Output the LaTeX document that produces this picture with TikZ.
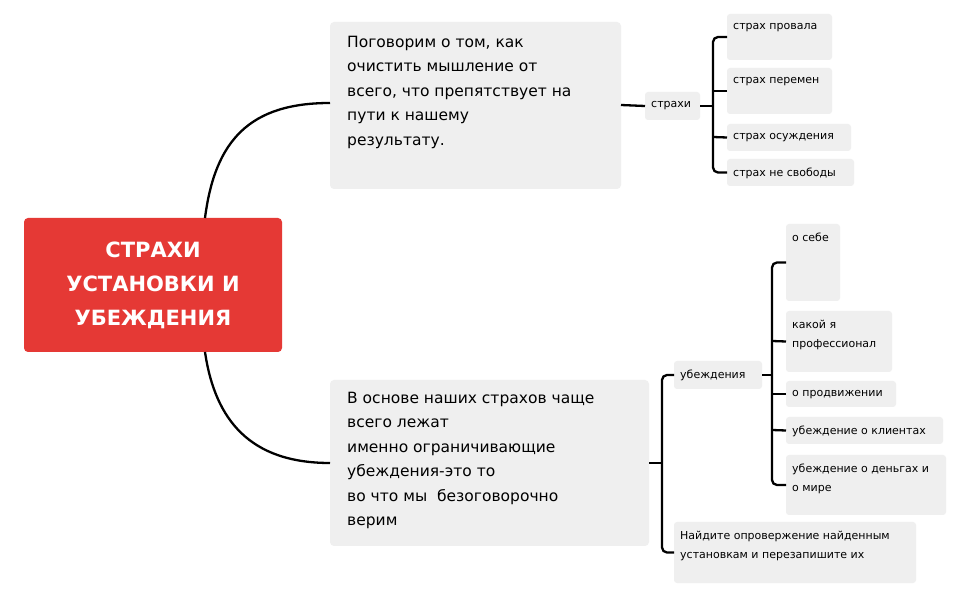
\documentclass[tikz,border=0pt]{standalone}
\usepackage{fontspec}
\setmainfont{DejaVu Sans}
\begin{document}
\begin{tikzpicture}[x=1pt,y=-1pt,
  lbl/.style={anchor=north west,align=left,inner sep=0pt,text=black},
  con/.style={line width=2.3pt,black,rounded corners=5pt}]
\definecolor{boxgray}{HTML}{EFEFEF}
\definecolor{rootred}{HTML}{E53935}
\useasboundingbox[fill=white] (0,0) rectangle (970,601);
% root
\fill[rootred,rounded corners=4pt] (24,218) rectangle (282,352);
\node[text=white,font=\bfseries\fontsize{21}{34}\selectfont,align=center] (root) at (153,285) {СТРАХИ\\УСТАНОВКИ И\\УБЕЖДЕНИЯ};
\coordinate (rt) at (205,218); \coordinate (rb) at (205,352);
% big boxes
\fill[boxgray,rounded corners=4pt] (330,22) rectangle (621,189);
\node[lbl,font=\fontsize{15.5}{24.5}\selectfont] (t) at (347,36) {Поговорим о том, как\\очистить мышление от\\всего, что препятствует на\\пути к нашему\\результату.};
\coordinate (tl) at (330,103); \coordinate (tr) at (621,105);
\fill[boxgray,rounded corners=4pt] (330,380) rectangle (649,546);
\node[lbl,font=\fontsize{15.5}{24.5}\selectfont] (b) at (347,392) {В основе наших страхов чаще\\всего лежат\\именно ограничивающие\\убеждения-это то\\во что мы\ \ безоговорочно\\верим};
\coordinate (bl) at (330,463); \coordinate (br) at (649,463);
\draw[con] (rt) .. controls (215,140) and (250,103) .. (tl);
\draw[con] (rb) .. controls (215,420) and (250,463) .. (bl);
% small boxes
\newcommand{\smallbx}[6]{% name, x1,y1,x2,y2,text
  \fill[boxgray,rounded corners=3pt] (#2,#3) rectangle (#4,#5);
  \node[lbl,font=\fontsize{11}{19}\selectfont] (#1) at (#2+6,#3+9) {#6};
  \coordinate (#1w) at (#2,{(#3+#5)/2}); \coordinate (#1e) at (#4,{(#3+#5)/2});}
\smallbx{s}{645}{92}{700}{120}{страхи}
\smallbx{a1}{727}{14}{832}{60}{страх провала}
\smallbx{a2}{727}{68}{832}{114}{страх перемен}
\smallbx{a3}{727}{124}{851}{151}{страх осуждения}
\smallbx{a4}{727}{159}{854}{186}{страх не свободы}
\smallbx{u}{674}{361}{762}{389}{убеждения}
\smallbx{n}{674}{522}{916}{583}{Найдите опровержение найденным\\установкам и перезапишите их}
\smallbx{c1}{786}{224}{840}{301}{о себе}
\smallbx{c2}{786}{311}{892}{372}{какой я\\профессионал}
\smallbx{c3}{786}{381}{896}{407}{о продвижении}
\smallbx{c4}{786}{417}{943}{444}{убеждение о клиентах}
\smallbx{c5}{786}{455}{946}{515}{убеждение о деньгах и\\о мире}
\draw[con] (tr) -- (sw);
\draw[con] (se) -- (713,106);
\draw[con] (a1w) -| (713,106) |- (a4w);
\draw[con] (a2w) -- (713,91); \draw[con] (a3w) -- (713,137);
\draw[con] (br) -- (662,463);
\draw[con] (uw) -| (662,463) |- (nw);
\draw[con] (ue) -- (772,375);
\draw[con] (c1w) -| (772,375) |- (c5w);
\draw[con] (c2w) -- (772,341); \draw[con] (c3w) -- (772,394); \draw[con] (c4w) -- (772,430);
\end{tikzpicture}
\end{document}
